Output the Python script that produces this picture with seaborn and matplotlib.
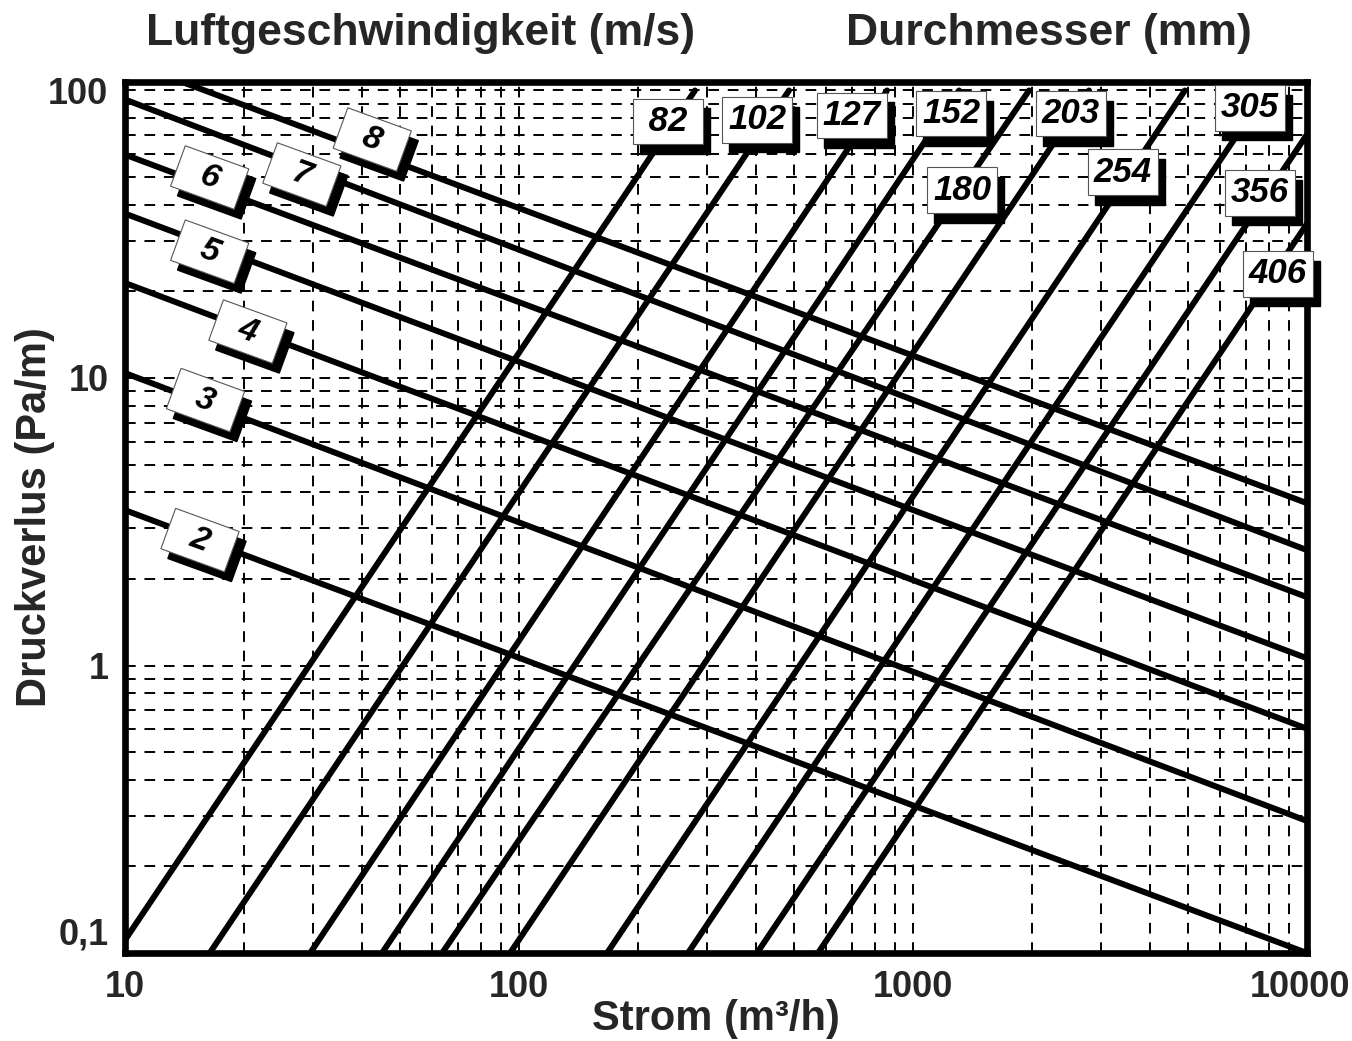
import pandas as pd
import seaborn as sns
import matplotlib.pyplot as plt
import matplotlib.transforms as mtransforms
from matplotlib.ticker import FixedLocator, FixedFormatter, LogLocator, NullFormatter

# air velocity lines (m/s): pressure loss (Pa/m) read at Q=10 and Q=10000 m3/h
vel_labels = ['2', '3', '4', '5', '6', '7', '8']
vel_dp_left = [3.47, 10.4, 21.4, 37.3, 59.8, 93.0, 127.0]
vel_dp_right = [0.10, 0.288, 0.603, 1.06, 1.73, 2.52, 3.67]
vel_q_ends = [10, 10000]
# where the velocity tags sit (Q, dp)
vel_label_q = [15.5, 16.0, 20.5, 16.4, 16.4, 28.1, 42.4]
vel_label_dp = [2.73, 8.38, 14.5, 27.5, 49.8, 51.0, 67.5]

# duct diameter lines (mm): flow (m3/h) at the lower and upper end points
dia_labels = ['82', '102', '127', '152', '180', '203', '254', '305', '356', '406']
dia_q_low = [9.5, 16.4, 29.5, 44.9, 63.8, 94.9, 167.3, 268.5, 401.8, 574.0]
dia_dp_low = [0.1] * 10
dia_q_high = [279.6, 484.5, 859, 1309, 1970, 2797, 4898, 7916, 10000, 10000]
dia_dp_high = [100, 100, 100, 100, 100, 100, 100, 100, 70.3, 34.4]
# where the diameter tags sit (Q, dp)
dia_label_q = [239, 402, 700, 1249, 1332, 2518, 3413, 7168, 7600, 8440]
dia_label_dp = [78, 79, 82, 83, 45, 83, 52, 87, 44, 23]

x_ticks = [10, 100, 1000, 10000]
x_ticklabels = ['10', '100', '1000', '10000']
y_ticks = [0.1, 1, 10, 100]
y_ticklabels = ['0,1', '1', '10', '100']

# long table for seaborn
rows = []
for lab, a, b in zip(vel_labels, vel_dp_left, vel_dp_right):
    rows.append(('v' + lab, vel_q_ends[0], a))
    rows.append(('v' + lab, vel_q_ends[1], b))
for lab, q1, p1, q2, p2 in zip(dia_labels, dia_q_low, dia_dp_low, dia_q_high, dia_dp_high):
    rows.append(('d' + lab, q1, p1))
    rows.append(('d' + lab, q2, p2))
df = pd.DataFrame(rows, columns=['line', 'Q', 'dp'])

sns.set_style('white')
plt.rcParams['font.family'] = ['Liberation Sans', 'DejaVu Sans']
plt.rcParams['font.weight'] = 'bold'
plt.rcParams['axes.labelweight'] = 'bold'

fig = plt.figure(figsize=(13.52, 10.41), dpi=100)
ax = fig.add_axes([0.0925, 0.0845, 0.8742, 0.8367])
ax.set_xscale('log')
ax.set_yscale('log')

sns.lineplot(data=df, x='Q', y='dp', units='line', estimator=None,
             color='black', linewidth=4.3, ax=ax, legend=False, zorder=3)

ax.set_xlim(10, 10000)
ax.set_ylim(0.1, 107)

ax.xaxis.set_major_locator(FixedLocator(x_ticks))
ax.xaxis.set_major_formatter(FixedFormatter(x_ticklabels))
ax.yaxis.set_major_locator(FixedLocator(y_ticks))
ax.yaxis.set_major_formatter(FixedFormatter(y_ticklabels))
ax.xaxis.set_minor_locator(LogLocator(base=10, subs=range(2, 10)))
ax.yaxis.set_minor_locator(LogLocator(base=10, subs=range(2, 10)))
ax.xaxis.set_minor_formatter(NullFormatter())
ax.yaxis.set_minor_formatter(NullFormatter())

ax.grid(True, which='both', color='black', linewidth=1.4, linestyle=(0, (5.5, 4.5)))
ax.set_axisbelow(True)
ax.tick_params(which='both', length=0, labelsize=26)
ax.tick_params(axis='x', pad=12)
ax.tick_params(axis='y', pad=12)
for s in ax.spines.values():
    s.set_linewidth(4.8)
    s.set_color('black')

ax.set_xlabel('Strom (m³/h)', fontsize=30, labelpad=-4)
ax.set_ylabel('Druckverlus (Pa/m)', fontsize=30, labelpad=-5)

# nudge end labels as in the original
lbls = ax.get_xticklabels()
lbls[-1].set_transform(lbls[-1].get_transform() +
                       mtransforms.ScaledTranslation(-0.07, 0, fig.dpi_scale_trans))
ylbls = ax.get_yticklabels()
ylbls[0].set_transform(ylbls[0].get_transform() +
                       mtransforms.ScaledTranslation(0, 0.22, fig.dpi_scale_trans))

fig.text(421 / 1352, 1 - 33 / 1041, 'Luftgeschwindigkeit (m/s)', fontsize=32,
         fontweight='bold', ha='center', va='center')
fig.text(1049 / 1352, 1 - 33 / 1041, 'Durchmesser (mm)', fontsize=32,
         fontweight='bold', ha='center', va='center')


def boxed(x, y, txt, size, rot):
    common = dict(xy=(x, y), xycoords='data', textcoords='offset points',
                  ha='center', va='center', rotation=rot, fontsize=size,
                  fontweight='bold', fontstyle='italic', annotation_clip=False)
    ax.annotate(txt, xytext=(5, -7), color='black', zorder=5,
                bbox=dict(boxstyle='square,pad=0.18', fc='black', ec='black'), **common)
    ax.annotate(txt, xytext=(0, 0), color='black', zorder=6,
                bbox=dict(boxstyle='square,pad=0.18', fc='white', ec='#555555', lw=0.8),
                **common)


for lab, q, dp in zip(vel_labels, vel_label_q, vel_label_dp):
    boxed(q, dp, '  ' + lab + '  ', 24, -20)

for lab, q, dp in zip(dia_labels, dia_label_q, dia_label_dp):
    pad = ' ' if len(lab) == 2 else ''
    boxed(q, dp, pad + lab + pad, 25, 0)

fig.savefig('out.png', dpi=100)
